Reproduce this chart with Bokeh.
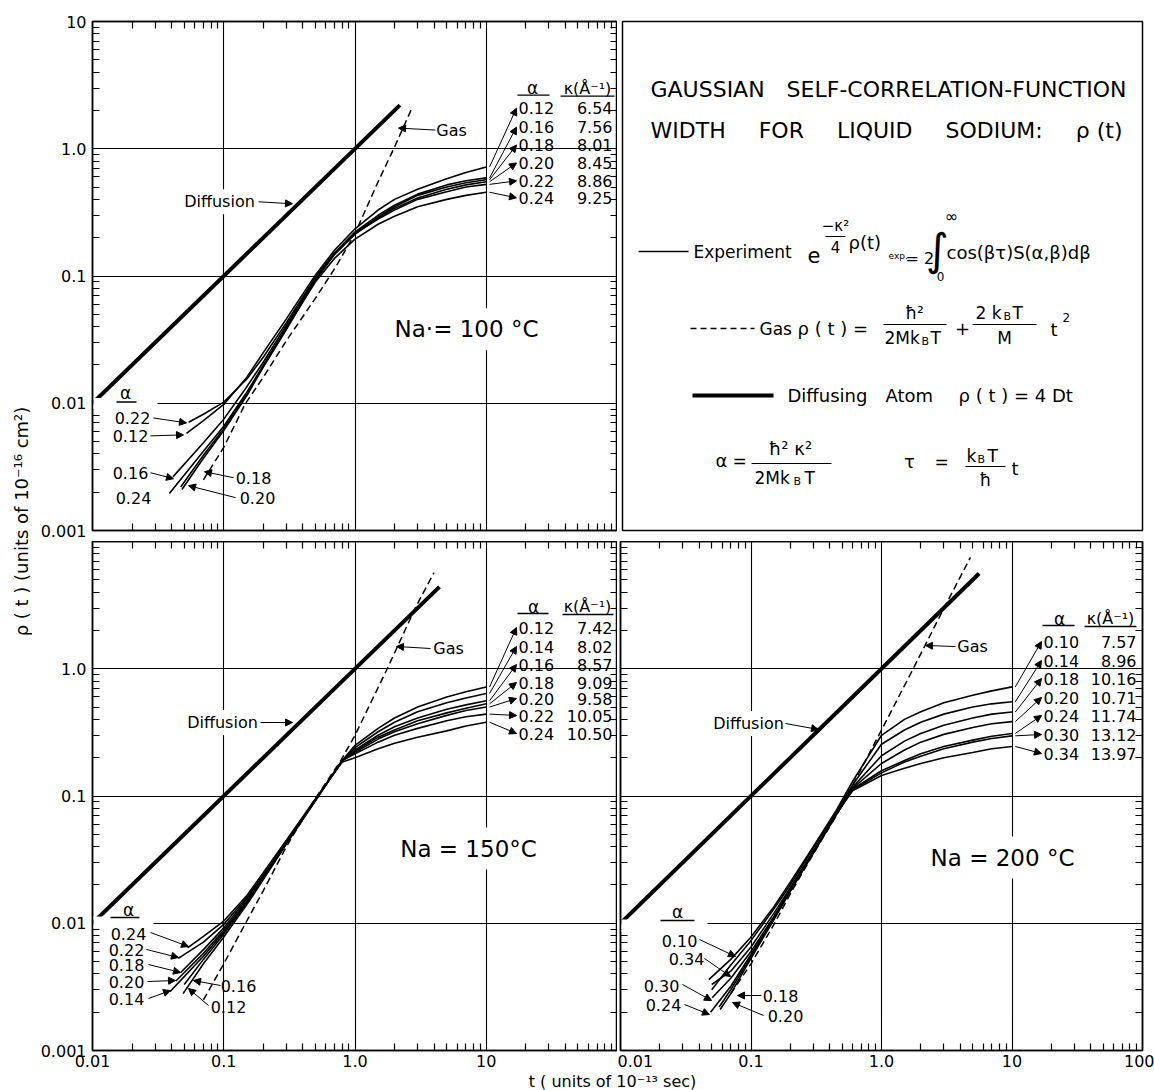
import math
from bokeh.plotting import figure
from bokeh.layouts import row, column
from bokeh.models import Range1d, LogAxis, FixedTicker, Label, Arrow, NormalHead, BoxAnnotation
from bokeh.embed import file_html
from bokeh.resources import INLINE

FONT = "DejaVu Sans"

# ---------------- axes ----------------
x_ticks = [0.01, 0.1, 1.0, 10.0, 100.0]
y_ticks = [0.001, 0.01, 0.1, 1.0, 10.0]
x_tick_text = ["0.01", "0.1", "1.0", "10", "100"]
y_tick_text = ["0.001", "0.01", "0.1", "1.0", "10"]

# ---------------- Na = 100 C ----------------
alpha_100 = ["0.12", "0.16", "0.18", "0.20", "0.22", "0.24"]
kappa_100 = ["6.54", "7.56", "8.01", "8.45", "8.86", "9.25"]
t_100 = [0.07, 0.1, 0.15, 0.2, 0.3, 0.5, 0.7, 1.0, 1.5, 2.0, 3.0, 5.0, 7.0, 10.0]
start_t_100 = [0.052, 0.041, 0.047, 0.048, 0.054, 0.0385]
start_rho_100 = [0.0058, 0.00264, 0.0022, 0.0021, 0.0071, 0.00195]
rho_100_012 = [0.0073, 0.0098, 0.016, 0.025, 0.046, 0.102, 0.16, 0.235, 0.33, 0.40, 0.48, 0.58, 0.65, 0.72]
rho_100_016 = [0.0049, 0.0075, 0.0135, 0.021, 0.041, 0.096, 0.152, 0.222, 0.30, 0.36, 0.44, 0.52, 0.56, 0.59]
rho_100_018 = [0.0039, 0.0063, 0.0118, 0.0195, 0.039, 0.094, 0.150, 0.218, 0.29, 0.35, 0.43, 0.50, 0.54, 0.57]
rho_100_020 = [0.0037, 0.0061, 0.0115, 0.0192, 0.038, 0.093, 0.148, 0.213, 0.285, 0.34, 0.41, 0.48, 0.52, 0.55]
rho_100_022 = [0.0082, 0.0102, 0.0155, 0.023, 0.043, 0.098, 0.152, 0.215, 0.28, 0.33, 0.40, 0.46, 0.50, 0.525]
rho_100_024 = [0.0042, 0.0066, 0.0122, 0.0198, 0.039, 0.090, 0.138, 0.195, 0.255, 0.295, 0.35, 0.40, 0.43, 0.455]
gas_t_100 = [0.07, 0.1, 0.145, 0.2, 0.3, 0.5, 0.714, 1.0, 1.5, 2.0, 2.75]
gas_rho_100 = [0.0025, 0.0045, 0.0098, 0.016, 0.031, 0.067, 0.118, 0.216, 0.55, 1.03, 2.15]
diff_t_100 = [0.01, 2.2]
diff_rho_100 = [0.01, 2.2]

# ---------------- Na = 150 C ----------------
alpha_150 = ["0.12", "0.14", "0.16", "0.18", "0.20", "0.22", "0.24"]
kappa_150 = ["7.42", "8.02", "8.57", "9.09", "9.58", "10.05", "10.50"]
t_150 = [0.07, 0.1, 0.15, 0.2, 0.3, 0.5, 0.8, 1.0, 1.5, 2.0, 3.0, 5.0, 7.0, 10.0]
start_t_150 = [0.049, 0.039, 0.05, 0.047, 0.043, 0.045, 0.053]
start_rho_150 = [0.0028, 0.0029, 0.0033, 0.0041, 0.0035, 0.0053, 0.0064]
rho_150_012 = [0.0048, 0.0078, 0.014, 0.022, 0.042, 0.092, 0.19, 0.25, 0.34, 0.41, 0.50, 0.60, 0.66, 0.72]
rho_150_014 = [0.0055, 0.0085, 0.0148, 0.023, 0.043, 0.093, 0.19, 0.24, 0.32, 0.38, 0.46, 0.54, 0.59, 0.64]
rho_150_016 = [0.0052, 0.0082, 0.0145, 0.0225, 0.0425, 0.092, 0.19, 0.23, 0.30, 0.35, 0.41, 0.48, 0.52, 0.56]
rho_150_018 = [0.0062, 0.0092, 0.0155, 0.0235, 0.0435, 0.094, 0.19, 0.225, 0.29, 0.33, 0.39, 0.45, 0.49, 0.53]
rho_150_020 = [0.0058, 0.0088, 0.015, 0.023, 0.043, 0.093, 0.19, 0.22, 0.28, 0.32, 0.37, 0.43, 0.47, 0.50]
rho_150_022 = [0.0071, 0.0098, 0.016, 0.024, 0.044, 0.094, 0.19, 0.215, 0.265, 0.30, 0.34, 0.39, 0.42, 0.44]
rho_150_024 = [0.0079, 0.0104, 0.0165, 0.025, 0.045, 0.095, 0.185, 0.20, 0.235, 0.26, 0.29, 0.325, 0.355, 0.38]
gas_t_150 = [0.07, 0.1, 0.145, 0.2, 0.3, 0.48, 0.78, 1.0, 1.76, 2.9, 4.0]
gas_rho_150 = [0.0025, 0.0048, 0.0098, 0.018, 0.04, 0.09, 0.19, 0.3, 1.0, 3.05, 5.7]
diff_t_150 = [0.01, 4.4]
diff_rho_150 = [0.01, 4.4]

# ---------------- Na = 200 C ----------------
alpha_200 = ["0.10", "0.14", "0.18", "0.20", "0.24", "0.30", "0.34"]
kappa_200 = ["7.57", "8.96", "10.16", "10.71", "11.74", "13.12", "13.97"]
t_200 = [0.07, 0.1, 0.15, 0.2, 0.3, 0.45, 0.6, 1.0, 1.5, 2.0, 3.0, 5.0, 7.0, 10.0]
start_t_200 = [0.0475, 0.05, 0.057, 0.058, 0.049, 0.0504, 0.05]
start_rho_200 = [0.0036, 0.003, 0.0022, 0.0021, 0.002, 0.0026, 0.0033]
rho_200_010 = [0.0052, 0.0078, 0.0135, 0.021, 0.04, 0.077, 0.13, 0.30, 0.40, 0.46, 0.54, 0.62, 0.67, 0.72]
rho_200_014 = [0.0047, 0.0073, 0.013, 0.020, 0.039, 0.075, 0.122, 0.255, 0.33, 0.38, 0.44, 0.50, 0.53, 0.55]
rho_200_018 = [0.0030, 0.0055, 0.011, 0.018, 0.036, 0.072, 0.117, 0.207, 0.27, 0.31, 0.36, 0.41, 0.44, 0.457]
rho_200_020 = [0.0028, 0.0053, 0.0107, 0.0178, 0.0355, 0.071, 0.115, 0.18, 0.23, 0.265, 0.305, 0.345, 0.37, 0.384]
rho_200_024 = [0.0032, 0.0057, 0.011, 0.018, 0.036, 0.071, 0.113, 0.158, 0.19, 0.215, 0.245, 0.275, 0.295, 0.31]
rho_200_030 = [0.0037, 0.006, 0.0113, 0.0185, 0.0365, 0.072, 0.112, 0.152, 0.185, 0.205, 0.235, 0.265, 0.283, 0.297]
rho_200_034 = [0.0042, 0.0065, 0.012, 0.019, 0.037, 0.072, 0.11, 0.145, 0.165, 0.18, 0.20, 0.22, 0.235, 0.245]
gas_t_200 = [0.07, 0.1, 0.15, 0.2, 0.3, 0.45, 0.68, 1.0, 1.75, 2.86, 4.8]
gas_rho_200 = [0.0028, 0.0048, 0.0098, 0.017, 0.035, 0.07, 0.155, 0.33, 1.0, 2.7, 7.5]
diff_t_200 = [0.01, 5.6]
diff_rho_200 = [0.01, 5.6]

# ------------- helpers ----------------
x_minor = [m * 10.0 ** k for k in range(-2, 2) for m in range(2, 10)]
y_minor = [m * 10.0 ** k for k in range(-3, 1) for m in range(2, 10)]

# frame of each panel on the page (pixels) used to place annotations
FR = {"tl": (92.0, 617.0, 21.0, 532.0),
      "bl": (92.0, 617.0, 541.0, 1050.0),
      "br": (620.0, 1142.0, 541.0, 1050.0)}


def d(pan, px, py):
    x0, x1, y0, y1 = FR[pan]
    return 10 ** (-2 + 4 * (px - x0) / (x1 - x0)), 10 ** (1 - 4 * (py - y0) / (y1 - y0))


def style_axis(ax, ticks, minor, labels):
    ax.ticker = FixedTicker(ticks=ticks, minor_ticks=minor)
    ax.axis_line_color = "black"
    ax.axis_line_width = 1.5
    ax.major_tick_in = 0
    ax.major_tick_out = 0
    ax.minor_tick_in = 7
    ax.minor_tick_out = 0
    ax.minor_tick_line_color = "black"
    ax.minor_tick_line_width = 1.2
    if labels is None:
        ax.major_label_overrides = {t: "" for t in ticks}
        ax.major_label_text_font_size = "1px"
        ax.major_label_standoff = 0
    else:
        ax.major_label_overrides = dict(zip(ticks, labels))
        ax.major_label_text_font = FONT
        ax.major_label_text_font_size = "16px"
        ax.major_label_text_color = "black"
        ax.major_label_standoff = 4


def panel(width, height, mbl, mbr, mbt, mbb, xlab, ylab):
    p = figure(width=width, height=height, x_axis_type="log", y_axis_type="log",
               x_range=Range1d(0.01, 100), y_range=Range1d(0.001, 10),
               output_backend="svg", toolbar_location=None,
               min_border_left=mbl, min_border_right=mbr,
               min_border_top=mbt, min_border_bottom=mbb,
               background_fill_color="white", border_fill_color="white",
               outline_line_color="black", outline_line_width=1.5)
    p.add_layout(LogAxis(), "above")
    p.add_layout(LogAxis(), "right")
    style_axis(p.below[0], x_ticks, x_minor, xlab)
    style_axis(p.above[0], x_ticks, x_minor, None)
    style_axis(p.left[0], y_ticks, y_minor, ylab)
    style_axis(p.right[0], y_ticks, y_minor, None)
    p.left[0].major_label_standoff = 6
    for g in (p.xgrid, p.ygrid):
        g.grid_line_color = "black"
        g.grid_line_width = 1.1
    return p


def curves(p, t_grid, st, sr, series):
    for i, vals in enumerate(series):
        p.line([st[i]] + t_grid, [sr[i]] + vals, line_color="black", line_width=1.6)


def lab(p, pan, px, py, text, size="16px", align="center", bg=False, pad=None):
    x, y = d(pan, px, py)
    kw = dict(x=x, y=y, text=text, text_font=FONT, text_font_size=size,
              text_align=align, text_baseline="middle", text_color="black")
    if bg:
        kw.update(background_fill_color="white", background_fill_alpha=1.0)
    if pad is not None:
        kw["padding"] = pad
    p.add_layout(Label(**kw))


HEAD = dict(size=7, fill_color="black", line_color="black", line_width=1)


def arr(p, pan, px0, py0, px1, py1):
    x0, y0 = d(pan, px0, py0)
    x1, y1 = d(pan, px1, py1)
    p.add_layout(Arrow(end=NormalHead(**HEAD), x_start=x0, y_start=y0, x_end=x1, y_end=y1,
                       line_color="black", line_width=1))


def uline(p, pan, px0, px1, py):
    x0, y0 = d(pan, px0, py)
    x1, y1 = d(pan, px1, py)
    p.add_layout(Arrow(end=None, x_start=x0, y_start=y0, x_end=x1, y_end=y1,
                       line_color="black", line_width=1.3))


def mask(p, pan, px0, px1, py0, py1):
    x0, y0 = d(pan, px0, py0)
    x1, y1 = d(pan, px1, py1)
    p.add_layout(BoxAnnotation(left=x0, right=x1, top=y0, bottom=y1,
                               fill_color="white", fill_alpha=1.0, line_color=None))


def table(p, pan, alphas, kappas, ends, hx_a, hx_k, hy, rows_y, ax_left, k_right, ul_a, ul_k):
    lab(p, pan, hx_a, hy, "α", "17px")
    lab(p, pan, hx_k, hy, "κ(Å⁻¹)", "16px")
    uline(p, pan, ul_a[0], ul_a[1], hy + 7)
    uline(p, pan, ul_k[0], ul_k[1], hy + 8)
    for a, k, ry, e in zip(alphas, kappas, rows_y, ends):
        lab(p, pan, ax_left, ry, a, "16px", "left")
        lab(p, pan, k_right, ry, k, "16px", "right")
        xe, ye = d(pan, ax_left - 2, ry)
        p.add_layout(Arrow(end=NormalHead(**HEAD), x_start=10.6, y_start=e, x_end=xe, y_end=ye,
                           line_color="black", line_width=1))


# ================= panel Na = 100 C (top left) =================
p1 = panel(585, 541, 60, 0, 21, 9, None, y_tick_text)
s100 = [rho_100_012, rho_100_016, rho_100_018, rho_100_020, rho_100_022, rho_100_024]
curves(p1, t_100, start_t_100, start_rho_100, s100)
p1.line(gas_t_100, gas_rho_100, line_color="black", line_width=1.5, line_dash="7 4")
p1.line(diff_t_100, diff_rho_100, line_color="black", line_width=4)
lab(p1, "tl", 219, 202, "Diffusion", bg=True, pad=3)
arr(p1, "tl", 258, 202, 292, 204)
lab(p1, "tl", 451, 130, "Gas", bg=True)
arr(p1, "tl", 435, 130, 398, 128)
lab(p1, "tl", 466, 330, "Na·= 100 °C", "23px", bg=True, pad=8)
table(p1, "tl", alpha_100, kappa_100, [s[-1] for s in s100], 532, 587, 88,
      [108, 127, 145, 163, 181, 198], 518, 612, (517, 549), (560, 614))
mask(p1, "tl", 93, 157, 399, 411)
lab(p1, "tl", 125, 394, "α", "17px")
uline(p1, "tl", 116, 136, 403)
lab(p1, "tl", 132, 419, "0.22")
arr(p1, "tl", 153, 419, 186, 424)
lab(p1, "tl", 130, 437, "0.12")
arr(p1, "tl", 150, 437, 183, 436)
lab(p1, "tl", 130, 474, "0.16")
arr(p1, "tl", 150, 474, 173, 480)
lab(p1, "tl", 133, 499, "0.24")
lab(p1, "tl", 253, 479, "0.18")
arr(p1, "tl", 233, 479, 204, 473)
lab(p1, "tl", 257, 499, "0.20")
arr(p1, "tl", 235, 499, 188, 487)

# ================= text panel (top right) =================
p2 = figure(width=537, height=541, x_range=Range1d(622, 1142), y_range=Range1d(530, 21),
            output_backend="svg", toolbar_location=None,
            x_axis_location=None, y_axis_location=None,
            min_border_left=5, min_border_right=12, min_border_top=21, min_border_bottom=11,
            background_fill_color="white", border_fill_color="white",
            outline_line_color="black", outline_line_width=1.5)
p2.grid.visible = False


def tx(px, py, s, size=17, align="left"):
    p2.add_layout(Label(x=px, y=py, text=s, text_font=FONT, text_font_size=f"{size}px",
                        text_align=align, text_baseline="middle", text_color="black"))


def seg(x0, y0, x1, y1, w=1.2, dash="solid"):
    p2.segment(x0=[x0], y0=[y0], x1=[x1], y1=[y1], line_color="black", line_width=w, line_dash=dash)


tx(888, 89, "GAUSSIAN\u2003SELF-CORRELATION-FUNCTION", 22, "center")
tx(886, 130, "WIDTH\u2003\u2002FOR\u2003\u2002LIQUID\u2003\u2002SODIUM:\u2003\u2002ρ (t)", 22, "center")
# experiment
seg(638, 251, 688, 251, 1.5)
tx(693, 251, "Experiment")
tx(807, 254, "e", 21)
tx(835, 225, "−κ²", 15, "center")
seg(825, 236, 845, 236, 1)
tx(835, 246, "4", 15, "center")
tx(848, 242, "ρ(t)", 18)
tx(888, 255, "exp.", 9)
tx(905, 258, "= 2", 16)
tx(937, 249, "∫", 44, "center")
tx(951, 216, "∞", 16, "center")
tx(940, 276, "0", 12, "center")
tx(946, 252, "cos(βτ)S(α,β)dβ", 18)
# gas
seg(690, 328, 754, 328, 1.5, "6 4")
tx(759, 328, "Gas")
tx(797, 328, "ρ ( t ) =", 18)
tx(914, 312, "ħ²", 17, "center")
seg(883, 324, 946, 324, 1.2)
tx(884, 337, "2Mk")
tx(921, 341, "B", 11)
tx(930, 337, "T")
tx(962, 328, "+", 18, "center")
tx(975, 312, "2 k")
tx(1003, 316, "B", 11)
tx(1012, 312, "T")
seg(972, 324, 1036, 324, 1.2)
tx(1004, 337, "M", 17, "center")
tx(1050, 329, "t", 18)
tx(1062, 317, "2", 12)
# diffusing atom
seg(692, 395, 773, 395, 4)
tx(787, 395, "Diffusing\u2003Atom", 18)
tx(958, 395, "ρ ( t ) = 4 Dt", 18)
# alpha / tau
tx(721, 460, "α", 18, "center")
tx(739, 460, "=", 17, "center")
tx(790, 448, "ħ² κ²", 18, "center")
seg(751, 463, 831, 463, 1.2)
tx(754, 477, "2Mk")
tx(793, 481, "B", 11)
tx(804, 477, "T")
tx(909, 461, "τ", 18, "center")
tx(941, 461, "=", 17, "center")
tx(966, 455, "k")
tx(977, 459, "B", 11)
tx(987, 455, "T")
seg(965, 466, 1005, 466, 1.2)
tx(985, 479, "ħ", 17, "center")
tx(1011, 468, "t", 18)

# ================= panel Na = 150 C (bottom left) =================
p3 = panel(585, 530, 60, 0, 0, 21, ["0.01", "0.1", "1.0", "10", ""], ["0.001", "0.01", "0.1", "1.0", ""])
s150 = [rho_150_012, rho_150_014, rho_150_016, rho_150_018, rho_150_020, rho_150_022, rho_150_024]
curves(p3, t_150, start_t_150, start_rho_150, s150)
p3.line(gas_t_150, gas_rho_150, line_color="black", line_width=1.5, line_dash="7 4")
p3.line(diff_t_150, diff_rho_150, line_color="black", line_width=4)
lab(p3, "bl", 222, 722, "Diffusion", bg=True, pad=3)
arr(p3, "bl", 260, 722, 292, 722)
lab(p3, "bl", 448, 648, "Gas", bg=True)
arr(p3, "bl", 430, 648, 396, 646)
lab(p3, "bl", 468, 848, "Na = 150°C", "23px", bg=True, pad=8)
table(p3, "bl", alpha_150, kappa_150, [s[-1] for s in s150], 533, 587, 606,
      [627, 646, 664, 682, 698, 715, 733], 518, 612, (517, 548), (562, 613))
mask(p3, "bl", 93, 153, 916, 928)
lab(p3, "bl", 128, 909, "α", "17px")
uline(p3, "bl", 110, 139, 917)
lab(p3, "bl", 128, 933, "0.24")
arr(p3, "bl", 150, 932, 188, 946)
lab(p3, "bl", 126, 949, "0.22")
arr(p3, "bl", 146, 949, 178, 957)
lab(p3, "bl", 126, 964, "0.18")
arr(p3, "bl", 148, 964, 180, 972)
lab(p3, "bl", 126, 981, "0.20")
arr(p3, "bl", 147, 981, 175, 980)
lab(p3, "bl", 126, 998, "0.14")
arr(p3, "bl", 148, 998, 170, 990)
lab(p3, "bl", 238, 985, "0.16")
arr(p3, "bl", 220, 985, 193, 980)
lab(p3, "bl", 228, 1006, "0.12")
arr(p3, "bl", 208, 1005, 188, 988)

# ================= panel Na = 200 C (bottom right) =================
p4 = panel(537, 530, 3, 12, 0, 21, x_tick_text, None)
s200 = [rho_200_010, rho_200_014, rho_200_018, rho_200_020, rho_200_024, rho_200_030, rho_200_034]
curves(p4, t_200, start_t_200, start_rho_200, s200)
p4.line(gas_t_200, gas_rho_200, line_color="black", line_width=1.5, line_dash="7 4")
p4.line(diff_t_200, diff_rho_200, line_color="black", line_width=4)
lab(p4, "br", 748, 723, "Diffusion", bg=True, pad=3)
arr(p4, "br", 785, 723, 818, 729)
lab(p4, "br", 972, 646, "Gas", bg=True)
arr(p4, "br", 955, 646, 925, 645)
lab(p4, "br", 1002, 857, "Na = 200 °C", "23px", bg=True, pad=8)
table(p4, "br", alpha_200, kappa_200, [s[-1] for s in s200], 1059, 1110, 618,
      [641, 660, 678, 697, 715, 734, 753], 1043, 1136, (1042, 1074), (1084, 1136))
mask(p4, "br", 621, 707, 919, 931)
lab(p4, "br", 677, 911, "α", "17px")
uline(p4, "br", 660, 694, 920)
lab(p4, "br", 679, 940, "0.10")
arr(p4, "br", 699, 939, 735, 956)
lab(p4, "br", 686, 958, "0.34")
arr(p4, "br", 704, 958, 730, 976)
lab(p4, "br", 661, 985, "0.30")
arr(p4, "br", 682, 984, 711, 1000)
lab(p4, "br", 663, 1004, "0.24")
arr(p4, "br", 684, 1004, 709, 1014)
lab(p4, "br", 780, 995, "0.18")
arr(p4, "br", 761, 995, 737, 995)
lab(p4, "br", 785, 1015, "0.20")
arr(p4, "br", 763, 1015, 732, 1002)

# ================= axis titles =================
L = figure(width=32, height=1090, x_range=Range1d(0, 1), y_range=Range1d(0, 1),
           output_backend="svg", toolbar_location=None,
           x_axis_location=None, y_axis_location=None, min_border=0,
           outline_line_color=None, background_fill_color="white", border_fill_color="white")
L.grid.visible = False
L.add_layout(Label(x=0.66, y=1 - 521 / 1090, text="ρ ( t ) (units of 10⁻¹⁶ cm²)", angle=math.pi / 2,
                   text_font=FONT, text_font_size="18px", text_align="center", text_baseline="middle",
                   text_color="black"))

S = figure(width=1122, height=19, x_range=Range1d(0, 1), y_range=Range1d(0, 1),
           output_backend="svg", toolbar_location=None,
           x_axis_location=None, y_axis_location=None, min_border=0,
           outline_line_color=None, background_fill_color="white", border_fill_color="white")
S.grid.visible = False
S.add_layout(Label(x=(612 - 32) / 1122, y=0.5, text="t ( units of 10⁻¹³ sec)",
                   text_font=FONT, text_font_size="16px", text_align="center", text_baseline="middle",
                   text_color="black"))

layout = row(L, column(row(p1, p2), row(p3, p4), S))
open("out.html", "w").write(file_html(layout, INLINE))
